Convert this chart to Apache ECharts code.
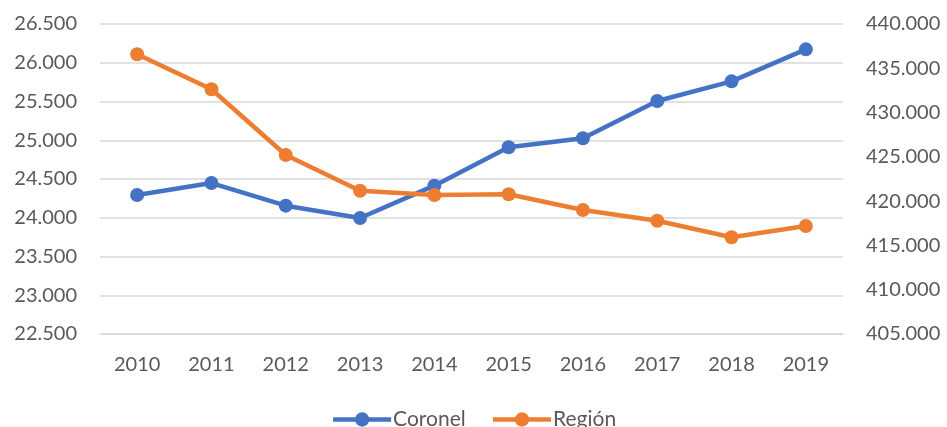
<!DOCTYPE html>
<html>
<head>
<meta charset="utf-8">
<script src="https://cdn.jsdelivr.net/npm/echarts@6/dist/echarts.min.js"></script>
<style>
  html, body { margin: 0; padding: 0; background: #fff; }
  #chart { width: 947px; height: 427px; }
</style>
</head>
<body>
<div id="chart"></div>
<script>
const years = ["2010", "2011", "2012", "2013", "2014", "2015", "2016", "2017", "2018", "2019"]
const coronel = [24294, 24448, 24156, 23997, 24414, 24909, 25025, 25506, 25760, 26173]
const region = [436580, 432630, 425210, 421180, 420690, 420770, 419000, 417790, 415920, 417190]

// números con punto como separador de miles
function fmt(v) {
  return String(Math.round(v)).replace(/\B(?=(\d{3})+(?!\d))/g, ".")
}

const txt = "#595959"
const font = "Lato, 'Open Sans', sans-serif"
const chart = echarts.init(document.getElementById("chart"))

chart.setOption({
  animation: false,
  textStyle: { fontFamily: font },
  color: ["#4472C4", "#ED7D31"],
  grid: { left: 100, right: 104, top: 24, bottom: 93 },
  legend: {
    top: 404,
    left: "center",
    itemWidth: 58,
    itemHeight: 18,
    itemGap: 25,
    lineStyle: { width: 4.5 },
    textStyle: { color: txt, fontSize: 21, fontFamily: font, padding: [0, 0, 0, -3] },
    data: ["Coronel", "Región"]
  },
  xAxis: {
    type: "category",
    data: years,
    axisTick: { show: false },
    axisLine: { lineStyle: { color: "#d9d9d9", width: 1.5 } },
    axisLabel: { color: txt, fontSize: 20, margin: 21 }
  },
  yAxis: [
    {
      type: "value",
      min: 22500,
      max: 26500,
      interval: 500,
      axisLabel: { color: txt, fontSize: 20, margin: 23, formatter: fmt },
      splitLine: { lineStyle: { color: "#d9d9d9", width: 1.5 } }
    },
    {
      type: "value",
      min: 405000,
      max: 440000,
      interval: 5000,
      axisLabel: { color: txt, fontSize: 20, margin: 23, formatter: fmt },
      splitLine: { show: false }
    }
  ],
  series: [
    {
      name: "Coronel",
      type: "line",
      yAxisIndex: 0,
      data: coronel,
      symbol: "circle",
      symbolSize: 14,
      lineStyle: { width: 4.5 }
    },
    {
      name: "Región",
      type: "line",
      yAxisIndex: 1,
      data: region,
      symbol: "circle",
      symbolSize: 14,
      lineStyle: { width: 4.5 }
    }
  ]
})
</script>
</body>
</html>
